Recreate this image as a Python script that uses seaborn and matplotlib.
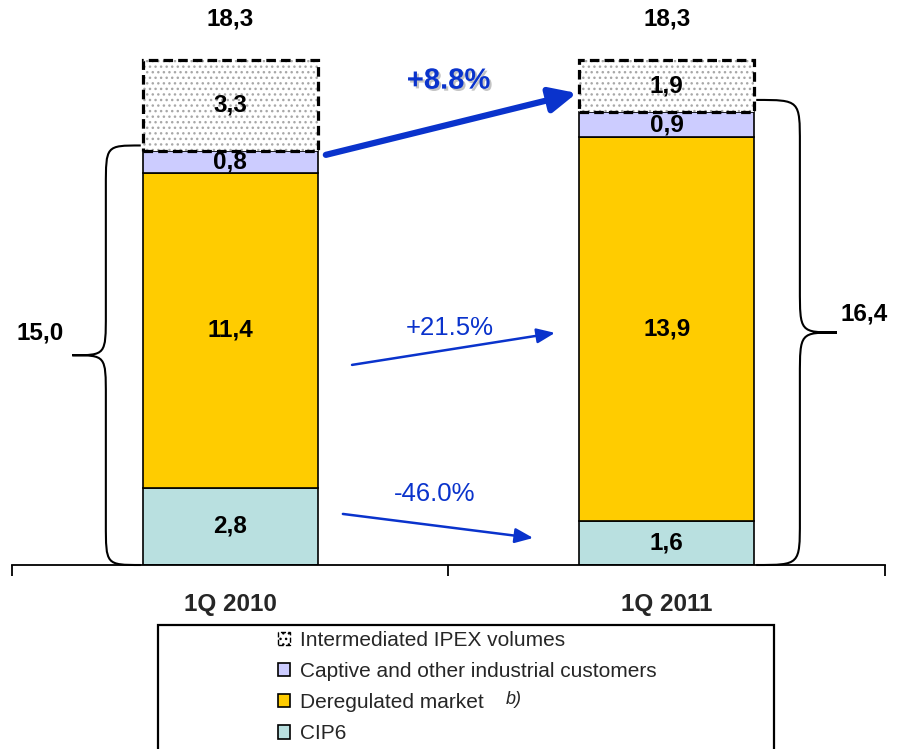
import numpy as np
import pandas as pd
import matplotlib
matplotlib.use('Agg')
import matplotlib.pyplot as plt
import matplotlib.patheffects as pe
from matplotlib.path import Path
from matplotlib.patches import PathPatch, Patch, Rectangle
import seaborn as sns

# Data (TWh)
periods = ['1Q 2010', '1Q 2011']
cip6 = [2.8, 1.6]
deregulated = [11.4, 13.9]
captive = [0.8, 0.9]
ipex = [3.3, 1.9]
totals = [18.3, 18.3]
subtotals = [15.0, 16.4]
changes = ['+8.8%', '+21.5%', '-46.0%']
legend_labels = ['Intermediated IPEX volumes', 'Captive and other industrial customers',
                 'Deregulated market', 'CIP6']

c_cip6 = '#B9E0E0'
c_dereg = '#FFCC00'
c_capt = '#CCCCFF'
blue = '#0A33CC'

sns.set_theme(style='white')
plt.rcParams['font.family'] = ['Liberation Sans', 'DejaVu Sans']
plt.rcParams['hatch.color'] = '#a0a0a0'
plt.rcParams['hatch.linewidth'] = 1.0

df = pd.DataFrame({'period': periods, 'cip6': cip6, 'deregulated': deregulated,
                   'captive': captive, 'ipex': ipex})
df['b_dereg'] = df['cip6']
df['b_capt'] = df['b_dereg'] + df['deregulated']
df['b_ipex'] = df['b_capt'] + df['captive']

fig = plt.figure(figsize=(9.03, 7.49), dpi=100)
ax = fig.add_axes([12 / 903, 1 - 565 / 749, 873 / 903, 565 / 749])

common = dict(data=df, x='period', width=0.4, saturation=1, errorbar=None, ax=ax)
sns.barplot(y='cip6', color=c_cip6, edgecolor='black', linewidth=1.2, **common)
sns.barplot(y='deregulated', bottom=df['b_dereg'].values, color=c_dereg,
            edgecolor='black', linewidth=1.2, **common)
sns.barplot(y='captive', bottom=df['b_capt'].values, color=c_capt,
            edgecolor='black', linewidth=1.2, **common)
sns.barplot(y='ipex', bottom=df['b_ipex'].values, color='white', hatch='...',
            edgecolor='#a8a8a8', linewidth=0, **common)
sns.barplot(y='ipex', bottom=df['b_ipex'].values, color='black', fill=False,
            linestyle=(0, (3, 1.6)), linewidth=2.3, **common)

# segment labels
lab_kw = dict(ha='center', va='center', fontsize=17.5, fontweight='bold', color='black')
for i in range(len(periods)):
    for vals, bots in [(cip6, [0, 0]), (deregulated, df['b_dereg']),
                       (captive, df['b_capt']), (ipex, df['b_ipex'])]:
        ax.text(i, bots[i] + vals[i] / 2, f'{vals[i]:.1f}'.replace('.', ','), **lab_kw)
    ax.text(i, 19.8, f'{totals[i]:.1f}'.replace('.', ','), **lab_kw)


def brace(ax, x_edge, xm, xt, y0, y1, r):
    ym = (y0 + y1) / 2
    verts = [(x_edge, y1), (xm, y1), (xm, y1), (xm, y1 - r),
             (xm, ym + r),
             (xm, ym), (xm, ym), (xt, ym),
             (xm, ym), (xm, ym), (xm, ym - r),
             (xm, y0 + r),
             (xm, y0), (xm, y0), (x_edge, y0)]
    codes = [Path.MOVETO] + [Path.CURVE4] * 3 + [Path.LINETO] + [Path.CURVE4] * 6 + \
            [Path.LINETO] + [Path.CURVE4] * 3
    ax.add_patch(PathPatch(Path(verts, codes), fill=False, lw=1.5, color='black',
                           clip_on=False))


brace(ax, -0.205, -0.285, -0.362, 0.0, subtotals[0] + 0.2, 1.5)
brace(ax, 1.205, 1.305, 1.39, 0.0, subtotals[1] + 0.45, 1.6)
ax.text(-0.436, 8.4, f'{subtotals[0]:.1f}'.replace('.', ','), **lab_kw)
ax.text(1.452, 9.1, f'{subtotals[1]:.1f}'.replace('.', ','), **lab_kw)

# change arrows
ax.annotate('', xy=(0.794, 17.1), xytext=(0.219, 14.86),
            arrowprops=dict(arrowstyle='-|>,head_length=1.6,head_width=0.75',
                            color=blue, lw=4.5, shrinkA=0, shrinkB=0, mutation_scale=10))
ax.annotate('', xy=(0.744, 8.41), xytext=(0.279, 7.25),
            arrowprops=dict(arrowstyle='-|>,head_length=1.1,head_width=0.45',
                            color=blue, lw=1.8, shrinkA=0, shrinkB=0, mutation_scale=10))
ax.annotate('', xy=(0.694, 0.98), xytext=(0.258, 1.85),
            arrowprops=dict(arrowstyle='-|>,head_length=1.1,head_width=0.45',
                            color=blue, lw=1.8, shrinkA=0, shrinkB=0, mutation_scale=10))
ax.text(0.5, 17.55, changes[0], ha='center', va='center', fontsize=21, fontweight='bold',
        color=blue, path_effects=[pe.withSimplePatchShadow(offset=(1.5, -1.5),
                                                          shadow_rgbFace='#888888', alpha=0.5)])
ax.text(0.503, 8.59, changes[1], ha='center', va='center', fontsize=18.5, color=blue)
ax.text(0.469, 2.57, changes[2], ha='center', va='center', fontsize=18.5, color=blue)

# axes styling
ax.set_xlim(-0.5, 1.5)
ax.set_ylim(0, 565 / 27.6)
ax.set_xlabel('')
ax.set_ylabel('')
ax.set_yticks([])
for s in ['left', 'right', 'top']:
    ax.spines[s].set_visible(False)
ax.spines['bottom'].set_color('black')
ax.spines['bottom'].set_linewidth(1.3)
ax.set_xticks([0, 1])
ax.set_xticklabels(periods, fontsize=17.5, fontweight='bold')
ax.tick_params(axis='x', which='major', length=0, pad=20)
ax.set_xticks([-0.5, 0.5, 1.5], minor=True)
ax.tick_params(axis='x', which='minor', bottom=True, length=8, width=1.3, color='black',
               direction='out')

# legend box
fig.patches.append(Rectangle((158 / 903, -0.05), 616 / 903, 1 - 625 / 749 + 0.05,
                             transform=fig.transFigure, fill=False, lw=1.6,
                             edgecolor='black'))
handles = [Patch(facecolor='white', edgecolor='black', hatch='...', linestyle='--', lw=1),
           Patch(facecolor=c_capt, edgecolor='black', lw=1.2),
           Patch(facecolor=c_dereg, edgecolor='black', lw=1.2),
           Patch(facecolor=c_cip6, edgecolor='black', lw=1.2)]
fig.legend(handles, legend_labels, loc='upper left', bbox_to_anchor=(278 / 903, 1 - 631 / 749),
           frameon=False, fontsize=15, handlelength=0.6, handleheight=0.6,
           handletextpad=0.45, labelspacing=0.58, borderpad=0, borderaxespad=0)
fig.text(514 / 903, 1 - 700 / 749, 'b)', fontsize=13, style='italic', ha='center', va='center')

fig.savefig('out.png', dpi=100)
